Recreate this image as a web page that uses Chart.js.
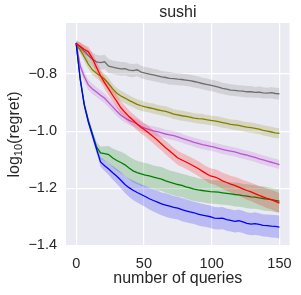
<!DOCTYPE html>
<html>
<head>
<meta charset="utf-8">
<script src="https://cdn.jsdelivr.net/npm/chart.js@4.4.1/dist/chart.umd.min.js"></script>
<style>
  html, body { margin: 0; padding: 0; background: #fff; }
</style>
</head>
<body>
<canvas id="chart" width="301" height="295"></canvas>
<script>
const queries = [0,3,6,9,12,15,18,21,24,27,30,33,36,39,42,45,48,51,54,57,60,63,66,69,72,75,78,81,84,87,90,93,96,99,102,105,108,111,114,117,120,123,126,129,132,135,138,141,144,147,150];

const grayMean = [-0.69,-0.705,-0.72,-0.735,-0.748,-0.757,-0.76,-0.757,-0.772,-0.776,-0.779,-0.782,-0.781,-0.786,-0.788,-0.785,-0.793,-0.797,-0.8,-0.803,-0.806,-0.81,-0.812,-0.815,-0.816,-0.818,-0.819,-0.821,-0.823,-0.826,-0.829,-0.833,-0.836,-0.839,-0.842,-0.846,-0.85,-0.853,-0.856,-0.857,-0.859,-0.86,-0.862,-0.862,-0.864,-0.863,-0.866,-0.867,-0.865,-0.868,-0.869];
const graySpread = [0.01,0.016,0.02,0.022,0.024,0.025,0.025,0.025,0.025,0.024,0.024,0.024,0.023,0.023,0.023,0.022,0.022,0.022,0.022,0.022,0.022,0.021,0.021,0.022,0.021,0.021,0.021,0.021,0.021,0.021,0.021,0.02,0.021,0.02,0.02,0.021,0.02,0.02,0.02,0.02,0.02,0.02,0.02,0.02,0.019,0.02,0.02,0.019,0.02,0.02,0.02];

const oliveMean = [-0.698,-0.715,-0.74,-0.765,-0.785,-0.797,-0.807,-0.818,-0.834,-0.852,-0.867,-0.877,-0.884,-0.892,-0.899,-0.906,-0.911,-0.915,-0.918,-0.921,-0.925,-0.928,-0.931,-0.935,-0.94,-0.943,-0.946,-0.948,-0.951,-0.954,-0.956,-0.957,-0.96,-0.962,-0.964,-0.967,-0.97,-0.973,-0.976,-0.978,-0.98,-0.983,-0.986,-0.988,-0.99,-0.993,-0.997,-1.0,-1.003,-1.006,-1.008];
const oliveSpread = [0.01,0.014,0.016,0.017,0.018,0.018,0.019,0.019,0.019,0.018,0.018,0.019,0.018,0.018,0.017,0.018,0.018,0.017,0.017,0.018,0.017,0.017,0.018,0.017,0.017,0.017,0.018,0.017,0.017,0.017,0.017,0.018,0.017,0.017,0.017,0.018,0.018,0.017,0.017,0.018,0.018,0.017,0.018,0.018,0.018,0.017,0.018,0.018,0.018,0.018,0.018];

const purpleMean = [-0.692,-0.772,-0.809,-0.838,-0.852,-0.863,-0.874,-0.885,-0.9,-0.915,-0.93,-0.944,-0.954,-0.962,-0.968,-0.975,-0.984,-0.99,-0.995,-0.999,-1.002,-1.006,-1.01,-1.013,-1.016,-1.02,-1.025,-1.03,-1.034,-1.039,-1.043,-1.047,-1.05,-1.053,-1.056,-1.06,-1.064,-1.067,-1.07,-1.073,-1.077,-1.081,-1.084,-1.088,-1.092,-1.097,-1.101,-1.105,-1.109,-1.113,-1.117];
const purpleSpread = [0.01,0.016,0.018,0.018,0.018,0.017,0.017,0.017,0.017,0.017,0.017,0.016,0.016,0.016,0.016,0.016,0.016,0.016,0.015,0.016,0.016,0.016,0.015,0.016,0.016,0.016,0.016,0.016,0.015,0.016,0.016,0.016,0.016,0.016,0.015,0.016,0.016,0.016,0.016,0.016,0.016,0.016,0.016,0.016,0.016,0.016,0.016,0.016,0.016,0.016,0.016];

const redMean = [-0.695,-0.703,-0.714,-0.722,-0.745,-0.776,-0.806,-0.831,-0.853,-0.875,-0.896,-0.918,-0.934,-0.949,-0.962,-0.975,-0.987,-0.997,-1.008,-1.02,-1.032,-1.045,-1.058,-1.07,-1.082,-1.094,-1.101,-1.108,-1.115,-1.123,-1.131,-1.14,-1.149,-1.157,-1.16,-1.166,-1.174,-1.18,-1.186,-1.19,-1.196,-1.202,-1.208,-1.213,-1.219,-1.225,-1.23,-1.236,-1.24,-1.246,-1.252];
const redSpread = [0.01,0.014,0.016,0.018,0.019,0.02,0.02,0.021,0.021,0.022,0.022,0.022,0.023,0.022,0.022,0.023,0.023,0.022,0.023,0.023,0.024,0.023,0.024,0.024,0.024,0.025,0.024,0.025,0.025,0.025,0.026,0.026,0.026,0.027,0.027,0.028,0.028,0.029,0.03,0.03,0.031,0.031,0.032,0.032,0.033,0.033,0.034,0.034,0.035,0.035,0.035];

const greenMean = [-0.692,-0.815,-0.905,-0.963,-1.01,-1.055,-1.076,-1.079,-1.082,-1.094,-1.103,-1.11,-1.118,-1.129,-1.139,-1.145,-1.15,-1.154,-1.157,-1.161,-1.165,-1.168,-1.174,-1.179,-1.183,-1.187,-1.19,-1.195,-1.199,-1.203,-1.206,-1.208,-1.21,-1.212,-1.213,-1.214,-1.216,-1.218,-1.22,-1.222,-1.223,-1.226,-1.228,-1.23,-1.231,-1.234,-1.236,-1.238,-1.24,-1.243,-1.245];
const greenSpread = [0.004,0.007,0.01,0.012,0.015,0.018,0.022,0.026,0.03,0.033,0.036,0.038,0.039,0.04,0.041,0.041,0.042,0.042,0.042,0.041,0.042,0.042,0.042,0.041,0.042,0.042,0.041,0.042,0.042,0.042,0.041,0.041,0.042,0.042,0.041,0.042,0.042,0.041,0.041,0.042,0.042,0.041,0.042,0.042,0.041,0.041,0.042,0.042,0.041,0.041,0.041];

const blueMean = [-0.692,-0.82,-0.91,-0.968,-1.015,-1.062,-1.108,-1.121,-1.133,-1.146,-1.158,-1.172,-1.187,-1.198,-1.207,-1.215,-1.222,-1.229,-1.237,-1.243,-1.249,-1.255,-1.259,-1.263,-1.267,-1.27,-1.275,-1.279,-1.283,-1.286,-1.291,-1.294,-1.297,-1.3,-1.305,-1.306,-1.305,-1.31,-1.313,-1.316,-1.314,-1.318,-1.323,-1.326,-1.324,-1.327,-1.33,-1.331,-1.333,-1.334,-1.336];
const blueSpread = [0.004,0.007,0.009,0.011,0.013,0.015,0.017,0.019,0.021,0.024,0.026,0.028,0.03,0.032,0.034,0.035,0.036,0.037,0.038,0.039,0.04,0.04,0.041,0.041,0.04,0.04,0.041,0.04,0.04,0.039,0.04,0.04,0.039,0.039,0.039,0.039,0.039,0.039,0.039,0.039,0.039,0.039,0.039,0.039,0.04,0.039,0.039,0.039,0.04,0.04,0.04];

const xTicks = [0, 50, 100, 150];
const yTicks = [-1.4, -1.2, -1.0, -0.8];

const titleText = 'sushi';
const xLabel = 'number of queries';

// drawing order: first entries end up underneath
const series = [
  { mean: grayMean, spread: graySpread, color: '110,110,110' },
  { mean: oliveMean, spread: oliveSpread, color: '128,128,0' },
  { mean: purpleMean, spread: purpleSpread, color: '186,85,211' },
  { mean: greenMean, spread: greenSpread, color: '0,128,0' },
  { mean: blueMean, spread: blueSpread, color: '0,0,255' },
  { mean: redMean, spread: redSpread, color: '255,0,0' },
];

const FONT = "'Liberation Sans', Arial, sans-serif";
const TEXT = '#262626';

const datasets = [];
series.forEach((s, i) => {
  const base = (series.length - i) * 3;
  datasets.push({
    data: queries.map((q, k) => ({ x: q, y: s.mean[k] + s.spread[k] })),
    borderWidth: 0,
    pointRadius: 0,
    fill: '+1',
    backgroundColor: `rgba(${s.color},0.2)`,
    order: base + 2,
  });
  datasets.push({
    data: queries.map((q, k) => ({ x: q, y: s.mean[k] - s.spread[k] })),
    borderWidth: 0,
    pointRadius: 0,
    fill: false,
    order: base + 1,
  });
  datasets.push({
    data: queries.map((q, k) => ({ x: q, y: s.mean[k] })),
    borderColor: `rgb(${s.color})`,
    borderWidth: 1.3,
    pointRadius: 0,
    fill: false,
    order: base,
  });
});

const background = {
  id: 'background',
  beforeDraw(chart) {
    const { ctx, chartArea: a } = chart;
    ctx.save();
    ctx.fillStyle = '#EAEAF2';
    ctx.fillRect(a.left, a.top, a.right - a.left, a.bottom - a.top);
    ctx.restore();
  },
};

const labels = {
  id: 'labels',
  afterDraw(chart) {
    const { ctx, chartArea: a } = chart;
    const cx = (a.left + a.right) / 2;
    const cy = (a.top + a.bottom) / 2;
    ctx.save();
    ctx.fillStyle = TEXT;
    ctx.textAlign = 'center';
    ctx.textBaseline = 'middle';
    ctx.font = `16px ${FONT}`;
    ctx.fillText(titleText, cx, 13);
    ctx.fillText(xLabel, cx, 279);

    // y label with subscript
    ctx.translate(14, cy);
    ctx.rotate(-Math.PI / 2);
    ctx.textAlign = 'left';
    ctx.textBaseline = 'alphabetic';
    const big = `16px ${FONT}`;
    const small = `11px ${FONT}`;
    ctx.font = big;
    const w1 = ctx.measureText('log').width;
    const w3 = ctx.measureText('(regret)').width;
    ctx.font = small;
    const w2 = ctx.measureText('10').width;
    let x = -(w1 + w2 + w3) / 2;
    const base = 5;
    ctx.font = big;
    ctx.fillText('log', x, base);
    x += w1;
    ctx.font = small;
    ctx.fillText('10', x, base + 3);
    x += w2;
    ctx.font = big;
    ctx.fillText('(regret)', x, base);
    ctx.restore();
  },
};

new Chart(document.getElementById('chart'), {
  type: 'line',
  data: { datasets },
  options: {
    responsive: false,
    animation: false,
    layout: { padding: { top: 23, right: 10, left: 0, bottom: 0 } },
    scales: {
      x: {
        type: 'linear',
        min: -7.5,
        max: 157.5,
        afterBuildTicks: scale => { scale.ticks = xTicks.map(v => ({ value: v })); },
        afterFit: scale => { scale.height = 49; },
        grid: { color: '#ffffff', lineWidth: 1.2, drawTicks: false },
        border: { display: false },
        ticks: {
          padding: 9,
          maxRotation: 0,
          color: TEXT,
          font: { family: FONT, size: 14.5 },
          callback: v => String(v),
        },
      },
      y: {
        type: 'linear',
        min: -1.4025,
        max: -0.621,
        afterBuildTicks: scale => { scale.ticks = yTicks.map(v => ({ value: v })); },
        afterFit: scale => { scale.width = 66; },
        grid: { color: '#ffffff', lineWidth: 1.2, drawTicks: false },
        border: { display: false },
        ticks: {
          padding: 9,
          color: TEXT,
          font: { family: FONT, size: 14.5 },
          callback: v => '\u2212' + Math.abs(v).toFixed(1),
        },
      },
    },
    plugins: {
      legend: { display: false },
      tooltip: { enabled: false },
    },
  },
  plugins: [background, labels],
});
</script>
</body>
</html>
